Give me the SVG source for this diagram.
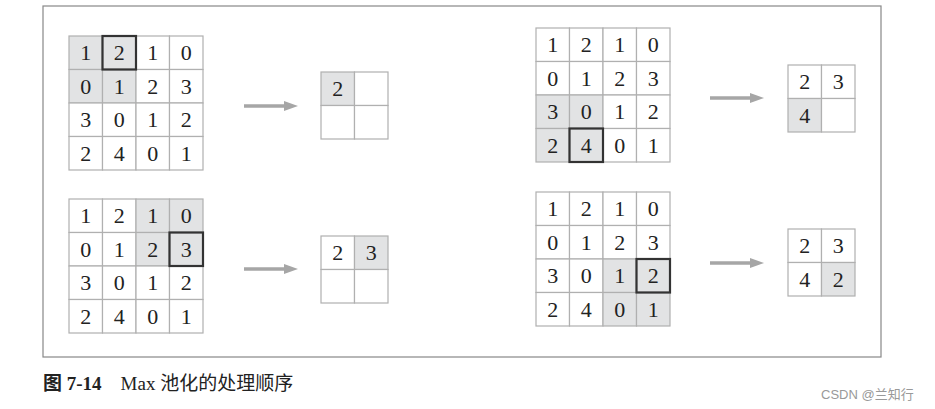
<svg xmlns="http://www.w3.org/2000/svg" width="935" height="409" viewBox="0 0 935 409">
<style>
.c{fill:#fff;stroke:#b0b0b0;stroke-width:1.2}
.g{fill:#e2e3e4;stroke:#b0b0b0;stroke-width:1.2}
.b{fill:none;stroke:#333;stroke-width:2.2}
.t{font-family:"Liberation Serif","DejaVu Serif",serif;font-size:22px;fill:#222;text-anchor:middle}
.a{stroke:#a6a6a6;stroke-width:3.5}
</style>
<defs><marker id="m" markerWidth="4" markerHeight="4" refX="0" refY="2" orient="auto"><path d="M0,0.6 L4,2 L0,3.4Z" fill="#a6a6a6"/></marker></defs>
<rect x="43" y="6" width="838" height="351" fill="#fff" stroke="#888" stroke-width="1.2"/>
<g id="grid1" transform="translate(69,36)">
<rect class="g" x="0" y="0" width="33.5" height="33.5"/><rect class="g" x="33.5" y="0" width="33.5" height="33.5"/><rect class="c" x="67" y="0" width="33.5" height="33.5"/><rect class="c" x="100.5" y="0" width="33.5" height="33.5"/>
<rect class="g" x="0" y="33.5" width="33.5" height="33.5"/><rect class="g" x="33.5" y="33.5" width="33.5" height="33.5"/><rect class="c" x="67" y="33.5" width="33.5" height="33.5"/><rect class="c" x="100.5" y="33.5" width="33.5" height="33.5"/>
<rect class="c" x="0" y="67" width="33.5" height="33.5"/><rect class="c" x="33.5" y="67" width="33.5" height="33.5"/><rect class="c" x="67" y="67" width="33.5" height="33.5"/><rect class="c" x="100.5" y="67" width="33.5" height="33.5"/>
<rect class="c" x="0" y="100.5" width="33.5" height="33.5"/><rect class="c" x="33.5" y="100.5" width="33.5" height="33.5"/><rect class="c" x="67" y="100.5" width="33.5" height="33.5"/><rect class="c" x="100.5" y="100.5" width="33.5" height="33.5"/>
<rect class="b" x="33.5" y="0" width="33.5" height="33.5"/>
<text class="t" y="24"><tspan x="16.75">1</tspan><tspan x="50.25">2</tspan><tspan x="83.75">1</tspan><tspan x="117.25">0</tspan></text>
<text class="t" y="57.5"><tspan x="16.75">0</tspan><tspan x="50.25">1</tspan><tspan x="83.75">2</tspan><tspan x="117.25">3</tspan></text>
<text class="t" y="91"><tspan x="16.75">3</tspan><tspan x="50.25">0</tspan><tspan x="83.75">1</tspan><tspan x="117.25">2</tspan></text>
<text class="t" y="124.5"><tspan x="16.75">2</tspan><tspan x="50.25">4</tspan><tspan x="83.75">0</tspan><tspan x="117.25">1</tspan></text>
</g>
<g id="grid2" transform="translate(69,199)">
<rect class="c" x="0" y="0" width="33.5" height="33.5"/><rect class="c" x="33.5" y="0" width="33.5" height="33.5"/><rect class="g" x="67" y="0" width="33.5" height="33.5"/><rect class="g" x="100.5" y="0" width="33.5" height="33.5"/>
<rect class="c" x="0" y="33.5" width="33.5" height="33.5"/><rect class="c" x="33.5" y="33.5" width="33.5" height="33.5"/><rect class="g" x="67" y="33.5" width="33.5" height="33.5"/><rect class="g" x="100.5" y="33.5" width="33.5" height="33.5"/>
<rect class="c" x="0" y="67" width="33.5" height="33.5"/><rect class="c" x="33.5" y="67" width="33.5" height="33.5"/><rect class="c" x="67" y="67" width="33.5" height="33.5"/><rect class="c" x="100.5" y="67" width="33.5" height="33.5"/>
<rect class="c" x="0" y="100.5" width="33.5" height="33.5"/><rect class="c" x="33.5" y="100.5" width="33.5" height="33.5"/><rect class="c" x="67" y="100.5" width="33.5" height="33.5"/><rect class="c" x="100.5" y="100.5" width="33.5" height="33.5"/>
<rect class="b" x="100.5" y="33.5" width="33.5" height="33.5"/>
<text class="t" y="24"><tspan x="16.75">1</tspan><tspan x="50.25">2</tspan><tspan x="83.75">1</tspan><tspan x="117.25">0</tspan></text>
<text class="t" y="57.5"><tspan x="16.75">0</tspan><tspan x="50.25">1</tspan><tspan x="83.75">2</tspan><tspan x="117.25">3</tspan></text>
<text class="t" y="91"><tspan x="16.75">3</tspan><tspan x="50.25">0</tspan><tspan x="83.75">1</tspan><tspan x="117.25">2</tspan></text>
<text class="t" y="124.5"><tspan x="16.75">2</tspan><tspan x="50.25">4</tspan><tspan x="83.75">0</tspan><tspan x="117.25">1</tspan></text>
</g>
<g id="grid3" transform="translate(536,28)">
<rect class="c" x="0" y="0" width="33.5" height="33.5"/><rect class="c" x="33.5" y="0" width="33.5" height="33.5"/><rect class="c" x="67" y="0" width="33.5" height="33.5"/><rect class="c" x="100.5" y="0" width="33.5" height="33.5"/>
<rect class="c" x="0" y="33.5" width="33.5" height="33.5"/><rect class="c" x="33.5" y="33.5" width="33.5" height="33.5"/><rect class="c" x="67" y="33.5" width="33.5" height="33.5"/><rect class="c" x="100.5" y="33.5" width="33.5" height="33.5"/>
<rect class="g" x="0" y="67" width="33.5" height="33.5"/><rect class="g" x="33.5" y="67" width="33.5" height="33.5"/><rect class="c" x="67" y="67" width="33.5" height="33.5"/><rect class="c" x="100.5" y="67" width="33.5" height="33.5"/>
<rect class="g" x="0" y="100.5" width="33.5" height="33.5"/><rect class="g" x="33.5" y="100.5" width="33.5" height="33.5"/><rect class="c" x="67" y="100.5" width="33.5" height="33.5"/><rect class="c" x="100.5" y="100.5" width="33.5" height="33.5"/>
<rect class="b" x="33.5" y="100.5" width="33.5" height="33.5"/>
<text class="t" y="24"><tspan x="16.75">1</tspan><tspan x="50.25">2</tspan><tspan x="83.75">1</tspan><tspan x="117.25">0</tspan></text>
<text class="t" y="57.5"><tspan x="16.75">0</tspan><tspan x="50.25">1</tspan><tspan x="83.75">2</tspan><tspan x="117.25">3</tspan></text>
<text class="t" y="91"><tspan x="16.75">3</tspan><tspan x="50.25">0</tspan><tspan x="83.75">1</tspan><tspan x="117.25">2</tspan></text>
<text class="t" y="124.5"><tspan x="16.75">2</tspan><tspan x="50.25">4</tspan><tspan x="83.75">0</tspan><tspan x="117.25">1</tspan></text>
</g>
<g id="grid4" transform="translate(536,192)">
<rect class="c" x="0" y="0" width="33.5" height="33.5"/><rect class="c" x="33.5" y="0" width="33.5" height="33.5"/><rect class="c" x="67" y="0" width="33.5" height="33.5"/><rect class="c" x="100.5" y="0" width="33.5" height="33.5"/>
<rect class="c" x="0" y="33.5" width="33.5" height="33.5"/><rect class="c" x="33.5" y="33.5" width="33.5" height="33.5"/><rect class="c" x="67" y="33.5" width="33.5" height="33.5"/><rect class="c" x="100.5" y="33.5" width="33.5" height="33.5"/>
<rect class="c" x="0" y="67" width="33.5" height="33.5"/><rect class="c" x="33.5" y="67" width="33.5" height="33.5"/><rect class="g" x="67" y="67" width="33.5" height="33.5"/><rect class="g" x="100.5" y="67" width="33.5" height="33.5"/>
<rect class="c" x="0" y="100.5" width="33.5" height="33.5"/><rect class="c" x="33.5" y="100.5" width="33.5" height="33.5"/><rect class="g" x="67" y="100.5" width="33.5" height="33.5"/><rect class="g" x="100.5" y="100.5" width="33.5" height="33.5"/>
<rect class="b" x="100.5" y="67" width="33.5" height="33.5"/>
<text class="t" y="24"><tspan x="16.75">1</tspan><tspan x="50.25">2</tspan><tspan x="83.75">1</tspan><tspan x="117.25">0</tspan></text>
<text class="t" y="57.5"><tspan x="16.75">0</tspan><tspan x="50.25">1</tspan><tspan x="83.75">2</tspan><tspan x="117.25">3</tspan></text>
<text class="t" y="91"><tspan x="16.75">3</tspan><tspan x="50.25">0</tspan><tspan x="83.75">1</tspan><tspan x="117.25">2</tspan></text>
<text class="t" y="124.5"><tspan x="16.75">2</tspan><tspan x="50.25">4</tspan><tspan x="83.75">0</tspan><tspan x="117.25">1</tspan></text>
</g>
<g id="out1" transform="translate(321,72)">
<rect class="g" x="0" y="0" width="33.5" height="33.5"/><rect class="c" x="33.5" y="0" width="33.5" height="33.5"/>
<rect class="c" x="0" y="33.5" width="33.5" height="33.5"/><rect class="c" x="33.5" y="33.5" width="33.5" height="33.5"/>
<text class="t" x="16.75" y="24">2</text>
</g>
<g id="out2" transform="translate(321,236)">
<rect class="c" x="0" y="0" width="33.5" height="33.5"/><rect class="g" x="33.5" y="0" width="33.5" height="33.5"/>
<rect class="c" x="0" y="33.5" width="33.5" height="33.5"/><rect class="c" x="33.5" y="33.5" width="33.5" height="33.5"/>
<text class="t" y="24"><tspan x="16.75">2</tspan><tspan x="50.25">3</tspan></text>
</g>
<g id="out3" transform="translate(788,65)">
<rect class="c" x="0" y="0" width="33.5" height="33.5"/><rect class="c" x="33.5" y="0" width="33.5" height="33.5"/>
<rect class="g" x="0" y="33.5" width="33.5" height="33.5"/><rect class="c" x="33.5" y="33.5" width="33.5" height="33.5"/>
<text class="t" y="24"><tspan x="16.75">2</tspan><tspan x="50.25">3</tspan></text>
<text class="t" x="16.75" y="57.5">4</text>
</g>
<g id="out4" transform="translate(788,229)">
<rect class="c" x="0" y="0" width="33.5" height="33.5"/><rect class="c" x="33.5" y="0" width="33.5" height="33.5"/>
<rect class="c" x="0" y="33.5" width="33.5" height="33.5"/><rect class="g" x="33.5" y="33.5" width="33.5" height="33.5"/>
<text class="t" y="24"><tspan x="16.75">2</tspan><tspan x="50.25">3</tspan></text>
<text class="t" y="57.5"><tspan x="16.75">4</tspan><tspan x="50.25">2</tspan></text>
</g>
<g id="connectors">
<line class="a" x1="244" y1="106" x2="284" y2="106" marker-end="url(#m)"/>
<line class="a" x1="244" y1="269" x2="284" y2="269" marker-end="url(#m)"/>
<line class="a" x1="710" y1="98" x2="750" y2="98" marker-end="url(#m)"/>
<line class="a" x1="710" y1="263" x2="750" y2="263" marker-end="url(#m)"/>
</g>
<text x="43" y="390" font-family="'Liberation Serif','Noto Sans CJK SC',serif" font-size="19" fill="#222"><tspan font-weight="bold">图 7-14</tspan>　Max 池化的处理顺序</text>
<text x="821" y="399" font-family="'Liberation Sans','Noto Sans CJK SC',sans-serif" font-size="13" fill="#999">CSDN @兰知行</text>
</svg>
